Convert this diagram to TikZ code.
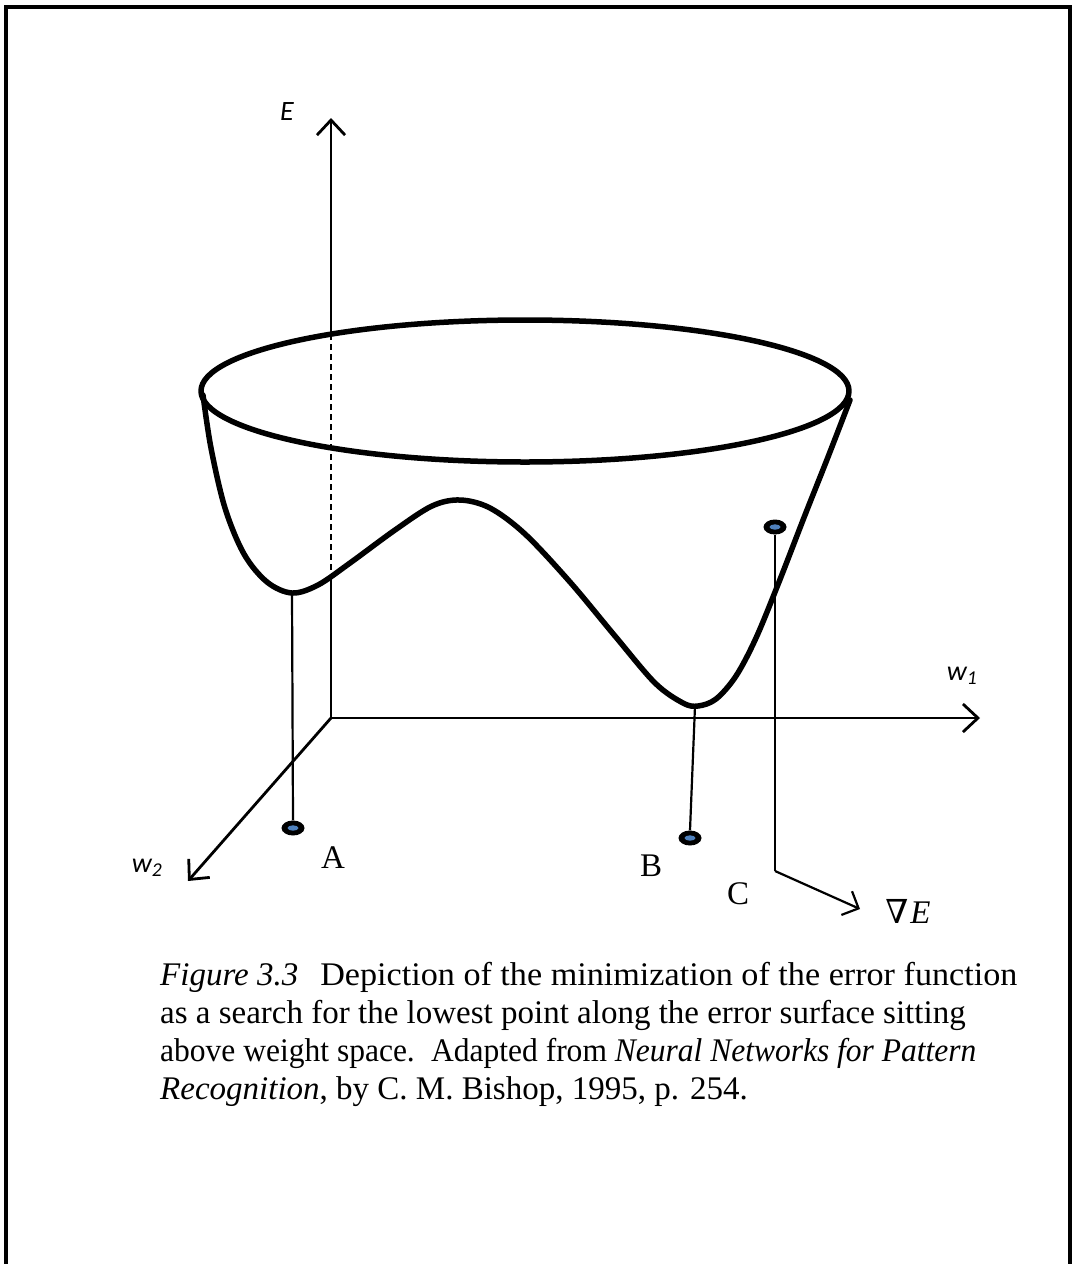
\documentclass[tikz,border=0pt]{standalone}
\usepackage{fontspec}
\setmainfont{Liberation Serif}
\newfontfamily\calib{Carlito}
\newfontfamily\dvserif{DejaVu Serif}
\usetikzlibrary{arrows.meta,shapes.geometric}
\definecolor{dotblue}{RGB}{79,129,189}
\tikzset{
  axis/.style={line width=2.8pt,-{Straight Barb[length=15pt,width=28pt,line width=2.8pt]}},
  thick curve/.style={line width=5.5pt,line join=round,line cap=round},
  drop/.style={line width=2.2pt},
  dot/.style={ellipse,fill=black,minimum width=23pt,minimum height=15pt,inner sep=0pt,
    path picture={\fill[dotblue] (path picture bounding box.center) ellipse (5.5pt and 2.7pt);}},
  axlabel/.style={font=\calib\itshape\fontsize{28}{32}\selectfont,inner sep=0pt},
  ptlabel/.style={font=\fontsize{33}{38}\selectfont,inner sep=0pt,anchor=base},
  capline/.style={font=\fontsize{33}{38}\selectfont,inner sep=0pt,anchor=base west}
}
\begin{document}
\begin{tikzpicture}[x=1pt,y=-1pt]
\useasboundingbox (0,0) rectangle (1076,1264);
% frame
\draw[line width=4pt] (6,1275) -- (6,7) -- (1070,7) -- (1070,1275);

% coordinates
\coordinate (O) at (331,718);
\coordinate (Etip) at (331,118);
\coordinate (W1tip) at (980,718);
\coordinate (W2tip) at (188,881);
\coordinate (Etop) at (331,334);
\coordinate (Ecross) at (331,577);

% axes
\draw[axis] (Etop) -- (Etip);
\draw[line width=2pt,dash pattern=on 6pt off 4pt] (Etop) -- (Ecross);
\draw[line width=2.8pt] (Ecross) -- (O);
\draw[axis] (O) -- (W1tip);
\draw[axis] (O) -- (W2tip);

\node[axlabel] (Elab) at (287,112) {E};
\node[axlabel] (W1lab) at (962,676) {w\textsubscript{1}};
\node[axlabel] (W2lab) at (147,868) {w\textsubscript{2}};

% bowl rim
\draw[thick curve] (525,391) ellipse (324pt and 71pt);

% bowl cross-section
\coordinate (Amin) at (292,593);
\coordinate (Bmin) at (695,706);
\draw[thick curve] plot[smooth,tension=0.55] coordinates {
 (203,395) (211,448) (225,508) (244,554) (267,582) (292,593)
 (318,585) (350,563) (395,530) (432,506) (460,500) (490,508)
 (525,534) (570,582) (615,636) (655,683) (683,703) (698,706)
 (716,699) (736,676) (756,638) (779,582) (805,515) (828,457) (850,400)};

% minima drop lines and dots
\node[dot] (Adot) at (293,828) {};
\node[dot] (Bdot) at (690,838) {};
\node[dot] (Cdot) at (775,527) {};
\draw[drop] (Amin) -- (Adot.north);
\draw[drop] (Bmin) -- (Bdot.north);
\coordinate (Ccorner) at (775,871);
\coordinate (Gtip) at (860,909);
\draw[drop] (Cdot.south) -- (Ccorner);
\draw[line width=2.2pt,-{Straight Barb[length=13pt,width=26pt,line width=2.2pt]}] (Ccorner) -- (Gtip);

\node[ptlabel] (Alab) at (333,868) {A};
\node[ptlabel] (Blab) at (651,876) {B};
\node[ptlabel] (Clab) at (738,904) {C};
\node[ptlabel] (Glab) at (908,923) {{\dvserif\fontsize{33}{36}\selectfont ∇}\hspace{2pt}\textit{E}};

% caption
\node[capline] (cap1) at (160,985) {\textit{Figure 3.3}\hspace{22pt}\scalebox{1.035}[1]{Depiction of the minimization of the error function}};
\node[capline] (cap2) at (160,1023) {as a search for the lowest point along the error surface sitting};
\node[capline] (cap3) at (160,1061) {\scalebox{0.955}[1]{above weight space.\hspace{6pt} Adapted from \textit{Neural Networks for Pattern}}};
\node[capline] (cap4) at (160,1099) {\textit{Recognition}, by C. M. Bishop, 1995, p. 254.};
\end{tikzpicture}
\end{document}
